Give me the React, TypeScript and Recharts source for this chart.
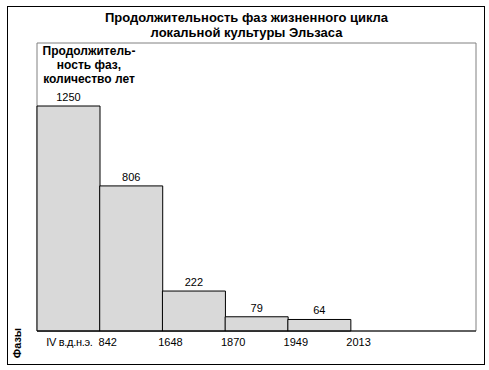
import React from 'react';
import { BarChart, Bar, XAxis, YAxis, LabelList, ReferenceArea } from 'recharts';

// Phase boundaries (tick labels) and phase durations in years
const phaseLabels = ['IV в.д.н.э.', '842', '1648', '1870', '1949', '2013', ''];
const durations = [1250, 806, 222, 79, 64, null, null];

const chartData = phaseLabels.map((label, i) => ({ label, years: durations[i] }));

const font = '"Liberation Sans", Arial, sans-serif';

// Excel placed the year labels near the left edge of each bar, the first one under the bar
const PhaseTick = (props: any) => {
  const { x, y, payload, index } = props;
  const slot = 439 / phaseLabels.length;
  const tx = index === 0 ? x + 1 : x - slot / 2 + 8;
  return (
    <text x={tx} y={y + 7} textAnchor="middle" fontSize={11} fontFamily={font} fill="#000" letterSpacing={index === 0 ? -0.3 : 0}>
      {payload.value}
    </text>
  );
};

const App: React.FC = () => {
  return (
    <div style={{ position: 'absolute', left: 0, top: 0, width: 489, height: 370, background: '#fff', fontFamily: font }}>
      <div style={{ position: 'absolute', left: 7, top: 6, width: 476, height: 357, border: '1px solid #000' }} />
      <div style={{ position: 'absolute', left: 2, width: 489, top: 10, textAlign: 'center', fontWeight: 'bold', fontSize: 13, lineHeight: '15px' }}>
        Продолжительность фаз жизненного цикла
        <br />
        локальной культуры Эльзаса
      </div>
      <BarChart
        width={489}
        height={370}
        data={chartData}
        margin={{ top: 43, right: 13, bottom: 9, left: 37 }}
        barCategoryGap={0}
      >
        <ReferenceArea y1={0} y2={1600} fill="none" stroke="#808080" strokeWidth={1} ifOverflow="visible" />
        <XAxis dataKey="label" height={30} axisLine={{ stroke: '#000' }} tickLine={false} tick={<PhaseTick />} interval={0} />
        <YAxis domain={[0, 1600]} width={0} tick={false} tickLine={false} axisLine={{ stroke: '#000' }} />
        <Bar dataKey="years" fill="#d9d9d9" stroke="#000" strokeWidth={1} isAnimationActive={false}>
          <LabelList dataKey="years" position="top" offset={5} fontSize={11} fontFamily={font} fill="#000" />
        </Bar>
      </BarChart>
      <div style={{ position: 'absolute', left: 38, top: 44, width: 102, textAlign: 'center', fontWeight: 'bold', fontSize: 12, lineHeight: '14px', whiteSpace: 'nowrap' }}>
        Продолжитель-
        <br />
        ность фаз,
        <br />
        количество лет
      </div>
      <div
        style={{
          position: 'absolute',
          left: 17,
          top: 343,
          transform: 'translate(-50%, -50%) rotate(-90deg)',
          fontWeight: 'bold',
          fontSize: 11,
          whiteSpace: 'nowrap',
        }}
      >
        Фазы
      </div>
    </div>
  );
};

export default App;
